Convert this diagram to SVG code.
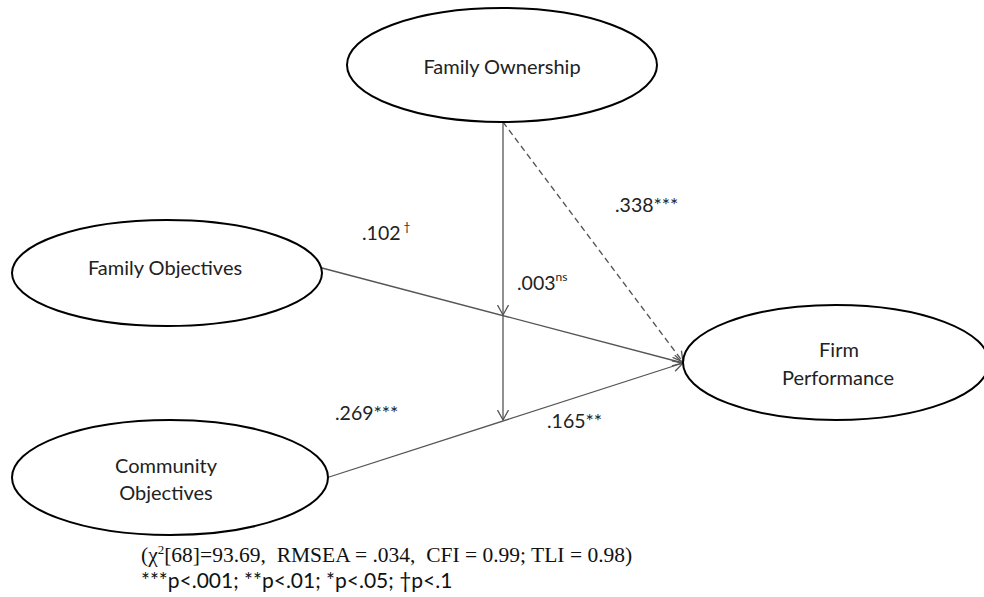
<svg xmlns="http://www.w3.org/2000/svg" width="984" height="597" viewBox="0 0 984 597">
<defs>
<marker id="arr" markerWidth="12" markerHeight="12" refX="10.5" refY="6" orient="auto" markerUnits="userSpaceOnUse">
<path d="M0.5,0.5 L10.5,6 L0.5,11.5" fill="none" stroke="#555" stroke-width="1.3"/>
</marker>
<style>
.node ellipse{fill:#fff;stroke:#000;stroke-width:2}
.lbl{font-family:Lato,"Liberation Sans",sans-serif;font-size:20px;fill:#222;text-anchor:middle}
.coef{font-family:Lato,"Liberation Sans",sans-serif;font-size:19.5px;fill:#222}
.sup{font-size:12px}
.conn line{stroke:#555;stroke-width:1.3;fill:none}
.conn .dash{stroke-dasharray:6 4}
.note1{font-family:"Liberation Serif","Times New Roman",serif;font-size:21.5px;fill:#111}
.note2{font-family:Lato,"Liberation Sans",sans-serif;font-size:21px;fill:#111}
</style>
</defs>
<rect width="984" height="597" fill="#fff"/>
<g id="connectors" class="conn">
<line x1="322" y1="268" x2="683" y2="363" marker-end="url(#arr)"/>
<line x1="326" y1="478" x2="683" y2="363" marker-end="url(#arr)"/>
<line class="dash" x1="503" y1="122" x2="683" y2="362" marker-end="url(#arr)"/>
<line x1="503" y1="122" x2="503" y2="315" marker-end="url(#arr)"/>
<line x1="503" y1="315" x2="503" y2="420" marker-end="url(#arr)"/>
</g>
<g id="family-ownership" class="node">
<ellipse cx="502" cy="65" rx="155" ry="57"/>
<text class="lbl" x="502" y="74">Family Ownership</text>
</g>
<g id="family-objectives" class="node">
<ellipse cx="167" cy="273" rx="155" ry="53"/>
<text class="lbl" x="165" y="275">Family Objectives</text>
</g>
<g id="community-objectives" class="node">
<ellipse cx="170" cy="477.5" rx="158" ry="57.5"/>
<text class="lbl" x="166" y="473">Community</text>
<text class="lbl" x="166" y="500">Objectives</text>
</g>
<g id="firm-performance" class="node">
<ellipse cx="836" cy="362.5" rx="153" ry="57.5"/>
<text class="lbl" x="839" y="357">Firm</text>
<text class="lbl" x="838" y="385">Performance</text>
</g>
<g id="labels">
<text class="coef" x="362" y="240">.102<tspan class="sup" dx="3" dy="-9">†</tspan></text>
<text class="coef" x="615" y="212">.338***</text>
<text class="coef" x="517" y="290">.003<tspan class="sup" dy="-9">ns</tspan></text>
<text class="coef" x="335" y="420">.269***</text>
<text class="coef" x="547" y="428">.165**</text>
</g>
<g id="footnote">
<text class="note1" x="141" y="562" xml:space="preserve">(χ<tspan font-size="13" dy="-8">2</tspan><tspan dy="8">[68]=93.69,  RMSEA = .034,  CFI = 0.99; TLI = 0.98)</tspan></text>
<text class="note2" x="141" y="588">***p&lt;.001; **p&lt;.01; *p&lt;.05; †p&lt;.1</text>
</g>
</svg>
